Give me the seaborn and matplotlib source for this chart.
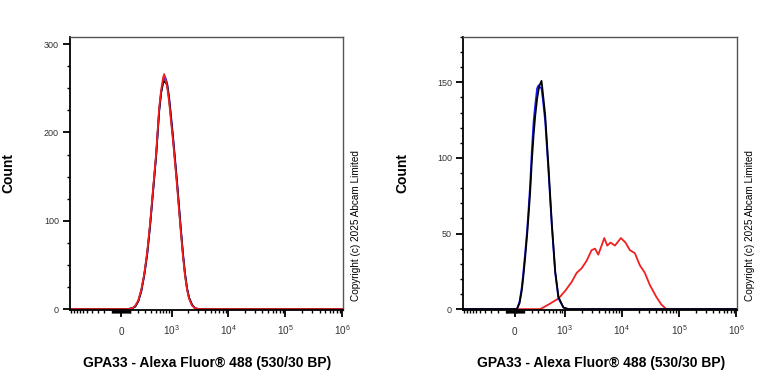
import numpy as np
import pandas as pd
import matplotlib
matplotlib.use("Agg")
import matplotlib.pyplot as plt
import seaborn as sns

# fluorescence values (x) and event counts
left_x = [-1100, 65, 123, 159, 198, 240, 285, 334, 386, 444, 515, 589, 642, 700, 731,
          763, 830, 903, 981, 1066, 1157, 1256, 1364, 1479, 1604, 1741, 1895, 2054,
          2317, 2613, 3065, 1.1e6]
left_blue = [0, 0, 1, 3, 9, 20, 38, 62, 94, 132, 174, 224, 245, 258, 260, 263, 256, 240,
             218, 195, 170, 145, 117, 89, 63, 41, 24, 13, 5, 1, 0, 0]
left_black = [0, 0, 1, 3, 9, 21, 39, 63, 95, 133, 175, 225, 245, 256, 258, 257, 254, 238,
              216, 193, 168, 143, 115, 88, 62, 40, 23, 13, 5, 1, 0, 0]
left_red = [0, 0, 1, 4, 10, 22, 40, 65, 97, 135, 177, 228, 248, 262, 266, 262, 252, 235,
            212, 190, 165, 140, 112, 85, 60, 38, 22, 12, 4, 1, 0, 0]

right_x = [-1100, 25, 54, 80, 99, 119, 141, 159, 179, 202, 226, 250, 278, 301, 318, 352,
           379, 422, 492, 571, 663, 763, 941, 1157, 1.1e6]
right_blue = [0, 0, 5, 15, 26, 38, 52, 66, 82, 105, 124, 135, 146, 148, 147, 146, 138,
              124, 91, 55, 24, 7, 1, 0, 0]
right_black = [0, 0, 4, 13, 23, 35, 49, 62, 77, 98, 115, 128, 139, 145, 148, 151, 142,
               128, 94, 57, 25, 8, 1, 0, 0]

red2_x = [-1100, 330, 492, 763, 1010, 1325, 1624, 1989, 2434, 2976, 3410, 3894, 4445,
          4958, 5590, 6380, 7607, 9673, 11630, 13880, 16950, 20710, 25300, 30900, 40280,
          49200, 60100, 1.1e6]
red2_y = [0, 0, 3, 7, 12, 18, 24, 27, 32, 39, 40, 36, 42, 47, 42, 44, 42, 47, 44, 39,
          37, 29, 24, 16, 8, 3, 0, 0]

xtick_vals = [0, 1e3, 1e4, 1e5, 1e6]
xtick_labels = ["0", "$10^3$", "$10^4$", "$10^5$", "$10^6$"]
xlabel = "GPA33 - Alexa Fluor® 488 (530/30 BP)"
copyright_text = "Copyright (c) 2025 Abcam Limited"

sns.set_theme(style="ticks")
plt.rcParams["font.family"] = ["Liberation Sans", "DejaVu Sans"]
plt.rcParams["text.color"] = "black"
plt.rcParams["mathtext.fontset"] = "custom"
plt.rcParams["mathtext.rm"] = "Liberation Sans"
plt.rcParams["mathtext.it"] = "Liberation Sans"

W = 270.0


def fwd(x):
    return np.arcsinh(np.asarray(x, dtype=float) / W) / np.log(10)


def inv(y):
    return W * np.sinh(np.asarray(y, dtype=float) * np.log(10))


blue = "#1a1aff"
red = "#f02020"

fig = plt.figure(figsize=(7.68, 3.84), dpi=100)
ax1 = fig.add_axes([70 / 768, 74 / 384, 273 / 768, 273 / 384])
ax2 = fig.add_axes([463 / 768, 74 / 384, 274 / 768, 273 / 384])

sns.lineplot(x=left_x, y=left_blue, ax=ax1, color=blue, lw=1.3, sort=False)
sns.lineplot(x=left_x, y=left_black, ax=ax1, color="black", lw=1.3, sort=False)
sns.lineplot(x=left_x, y=left_red, ax=ax1, color=red, lw=1.3, sort=False)

sns.lineplot(x=red2_x, y=red2_y, ax=ax2, color=red, lw=1.3, sort=False)
sns.lineplot(x=right_x, y=right_blue, ax=ax2, color=blue, lw=1.3, sort=False)
sns.lineplot(x=right_x, y=right_black, ax=ax2, color="black", lw=1.3, sort=False)

# minor ticks of the biexponential axis
minor = []
for k in [1, 2, 3, 4, 5]:
    for m in range(2 if k > 2 else 1, 10):
        minor.append(m * 10 ** k)
minor += [-m * 10 for m in range(1, 10)] + [-m * 100 for m in range(1, 11)]
minor = sorted(minor)

for ax, ylim, ymaj, ymin in [
    (ax1, (-1, 308), [0, 100, 200, 300], np.arange(0, 308, 25)),
    (ax2, (-0.6, 180), [0, 50, 100, 150], np.arange(0, 181, 10)),
]:
    ax.set_xscale("function", functions=(fwd, inv))
    ax.set_xlim(-1060, 1.03e6)
    ax.set_ylim(*ylim)
    ax.set_xticks(xtick_vals)
    ax.set_xticklabels(xtick_labels)
    ax.set_xticks(minor, minor=True)
    ax.set_yticks(ymaj)
    ax.set_yticks(ymin, minor=True)
    ax.tick_params(axis="both", which="major", length=5, width=1.3, labelsize=6.5,
                   colors="black", labelcolor="#333333")
    ax.tick_params(axis="x", which="major", pad=13, labelsize=7.2)
    ax.tick_params(axis="y", which="major", pad=3)
    ax.tick_params(axis="both", which="minor", length=2.5, width=1.0, color="black")
    for lab in ax.get_xticklabels():
        lab.set_verticalalignment("baseline")
    for s in ["left", "bottom"]:
        ax.spines[s].set_color("black")
        ax.spines[s].set_linewidth(1.3)
    for s in ["top", "right"]:
        ax.spines[s].set_color("#555555")
        ax.spines[s].set_linewidth(1.0)
    ax.set_xlabel("")
    ax.set_ylabel("")

for xc in [207, 601]:
    fig.text(xc / 768, 1 - 363 / 384, xlabel, ha="center", va="center",
             fontsize=10, fontweight="bold", color="black")
for xc in [8, 402]:
    fig.text(xc / 768, 1 - 173 / 384, "Count", ha="center", va="center",
             fontsize=10, fontweight="bold", rotation=90, color="black")
for xc in [356, 750]:
    fig.text(xc / 768, 1 - 226 / 384, copyright_text, ha="center", va="center",
             fontsize=7.2, rotation=90, color="black")

fig.savefig("out.png", dpi=100)
